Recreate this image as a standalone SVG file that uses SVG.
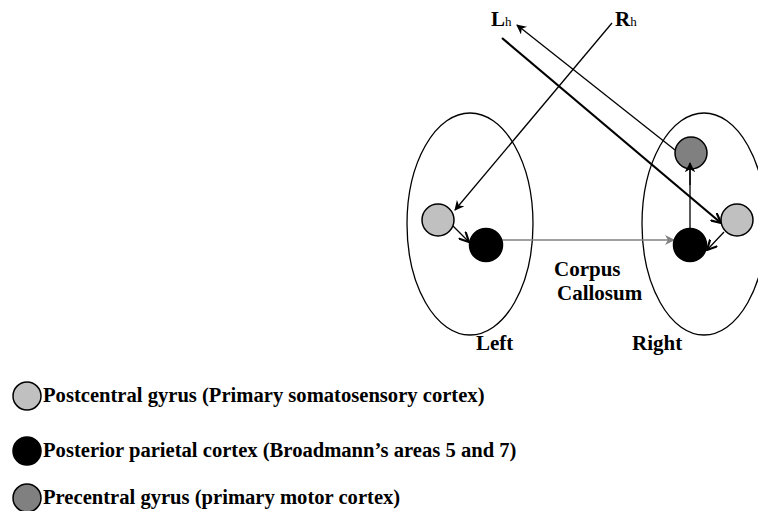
<svg xmlns="http://www.w3.org/2000/svg" width="758" height="511" viewBox="0 0 758 511">
<style>
text{font-family:"Liberation Serif","Times New Roman",serif;font-weight:bold;fill:#000}
.lbl{font-size:21px}
.leg{font-size:20.6px}
.sub{font-size:13px;font-weight:normal}
.hemi{fill:none;stroke:#000;stroke-width:1.3}
.node{stroke:#000;stroke-width:1.5}
.light{fill:#c0c0c0}
.dark{fill:#808080}
.black{fill:#000}
.ln{stroke:#000;stroke-width:1.3;fill:none}
.thick{stroke:#000;stroke-width:2.2;fill:none}
</style>
<defs>
<marker id="fa" viewBox="0 0 10 10" refX="9" refY="5" markerWidth="10" markerHeight="10" markerUnits="userSpaceOnUse" orient="auto">
<path d="M0,0 L10,5 L0,10 L3,5 Z" fill="#000"/>
</marker>
<marker id="fag" viewBox="0 0 10 10" refX="9" refY="5" markerWidth="10" markerHeight="10" markerUnits="userSpaceOnUse" orient="auto">
<path d="M0,0 L10,5 L0,10 L3,5 Z" fill="#808080"/>
</marker>
<marker id="va" viewBox="0 0 10 10" refX="9" refY="5" markerWidth="11" markerHeight="11" markerUnits="userSpaceOnUse" orient="auto">
<path d="M0,0.5 L9,5 L0,9.5" fill="none" stroke="#000" stroke-width="2"/>
</marker>
</defs>
<g id="left-hemisphere"><ellipse class="hemi" cx="470" cy="224" rx="63" ry="111"/></g>
<g id="right-hemisphere"><ellipse class="hemi" cx="704" cy="224" rx="62" ry="111"/></g>
<g id="connectors">
<line class="ln" x1="612" y1="23" x2="455" y2="210" marker-end="url(#fa)"/>
<line class="ln" x1="675" y1="150" x2="517" y2="25" marker-end="url(#fa)"/>
<line class="thick" x1="502" y1="38" x2="721" y2="223" marker-end="url(#va)"/>
<line class="ln" x1="453" y1="226" x2="469" y2="242" marker-end="url(#va)"/>
<line stroke="#808080" stroke-width="1.5" x1="502" y1="240" x2="674" y2="240" marker-end="url(#fag)"/>
<line class="ln" x1="690" y1="230" x2="690" y2="163" marker-end="url(#fa)"/>
<line class="ln" x1="724" y1="232" x2="707" y2="250" marker-end="url(#va)"/>
</g>
<g id="left-postcentral"><circle class="node light" cx="438" cy="220" r="16"/></g>
<g id="left-parietal"><circle class="node black" cx="486" cy="245" r="16.5"/></g>
<g id="right-parietal"><circle class="node black" cx="690" cy="245" r="16.5"/></g>
<g id="right-postcentral"><circle class="node light" cx="737" cy="220" r="16"/></g>
<g id="right-precentral"><circle class="node dark" cx="691" cy="153" r="16"/></g>
<g id="arrowfix"><line class="ln" x1="690" y1="185" x2="690" y2="163" marker-end="url(#fa)"/></g>
<g id="Lh"><text class="lbl" x="491" y="26">L<tspan class="sub">h</tspan></text></g>
<g id="Rh"><text class="lbl" x="615" y="26">R<tspan class="sub">h</tspan></text></g>
<g id="corpus-callosum"><text class="lbl" x="554" y="276">Corpus</text><text class="lbl" x="557" y="300">Callosum</text></g>
<g id="left-label"><text class="lbl" x="476" y="350">Left</text></g>
<g id="right-label"><text class="lbl" x="632" y="350">Right</text></g>
<g id="legend-postcentral"><circle class="node light" cx="27" cy="396" r="14"/><text class="leg" x="43" y="402">Postcentral gyrus (Primary somatosensory cortex)</text></g>
<g id="legend-parietal"><circle class="node black" cx="27" cy="451" r="14"/><text class="leg" x="43" y="457">Posterior parietal cortex (Broadmann’s areas 5 and 7)</text></g>
<g id="legend-precentral"><circle class="node dark" cx="27" cy="498" r="14"/><text class="leg" x="43" y="504">Precentral gyrus (primary motor cortex)</text></g>
</svg>
